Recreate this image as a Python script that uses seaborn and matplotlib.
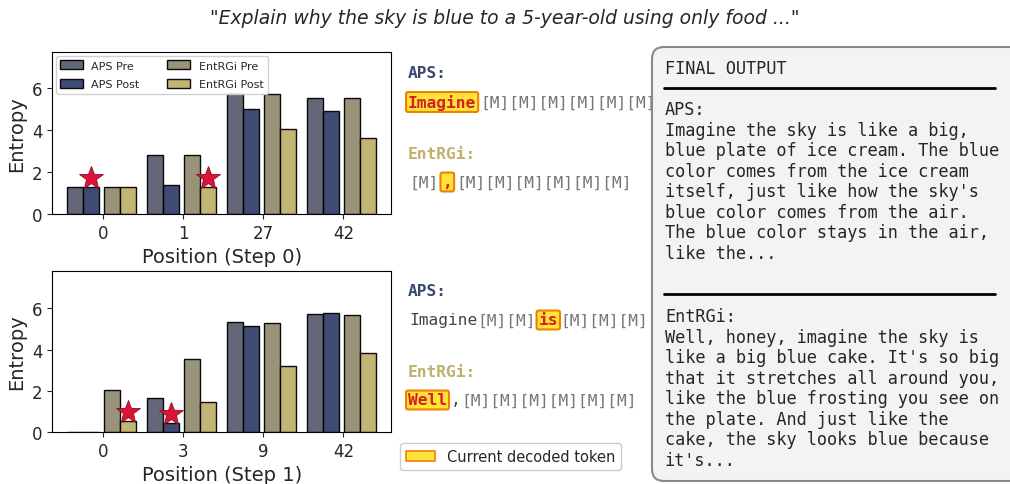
import seaborn as sns
import pandas as pd
import matplotlib.pyplot as plt
from matplotlib.patches import Patch, FancyBboxPatch
from matplotlib.transforms import Bbox

# Data
series = ["APS Pre", "APS Post", "EntRGi Pre", "EntRGi Post"]
step0_positions = ["0", "1", "27", "42"]
step0_aps_pre = [1.28, 2.82, 5.75, 5.52]
step0_aps_post = [1.28, 1.38, 5.01, 4.90]
step0_ent_pre = [1.28, 2.82, 5.71, 5.52]
step0_ent_post = [1.28, 1.28, 4.05, 3.62]

step1_positions = ["0", "3", "9", "42"]
step1_aps_pre = [0.0, 1.64, 5.31, 5.74]
step1_aps_post = [0.0, 0.42, 5.16, 5.79]
step1_ent_pre = [2.03, 3.55, 5.27, 5.66]
step1_ent_post = [0.53, 1.48, 3.19, 3.84]

# decoded-token markers: (series, group index)
step0_stars = [("APS Post", 0), ("EntRGi Post", 1)]
step1_stars = [("EntRGi Post", 0), ("APS Post", 1)]

prompt = '"Explain why the sky is blue to a 5-year-old using only food ..."'
aps_final = ("APS:\nImagine the sky is like a big,\nblue plate of ice cream. The blue\n"
             "color comes from the ice cream\nitself, just like how the sky's\n"
             "blue color comes from the air.\nThe blue color stays in the air,\nlike the...")
ent_final = ("EntRGi:\nWell, honey, imagine the sky is\nlike a big blue cake. It's so big\n"
             "that it stretches all around you,\nlike the blue frosting you see on\n"
             "the plate. And just like the\ncake, the sky looks blue because\nit's...")

# token lines: (text, kind) kind = mask / tok / cur
step0_aps_tokens = [("Imagine", "cur"), ("[M][M][M][M][M][M]", "mask")]
step0_ent_tokens = [("[M]", "mask"), (",", "cur"), ("[M][M][M][M][M][M]", "mask")]
step1_aps_tokens = [("Imagine", "tok"), ("[M][M]", "mask"), ("is", "cur"), ("[M][M][M][", "mask")]
step1_ent_tokens = [("Well", "cur"), (",", "tok"), ("[M][M][M][M][M][M]", "mask")]

palette = {"APS Pre": "#5a6070", "APS Post": "#34416b",
           "EntRGi Pre": "#948d72", "EntRGi Post": "#bfb06c"}
offsets = {"APS Pre": -0.35, "APS Post": -0.15, "EntRGi Pre": 0.11, "EntRGi Post": 0.31}
navy = "#3a4870"
khaki = "#bfb06c"
mono = "DejaVu Sans Mono"

sns.set_style("ticks")
plt.rcParams['font.family'] = ['DejaVu Sans']

fig = plt.figure(figsize=(10.1, 4.85), dpi=100)
ax0 = fig.add_axes([0.0515, 0.557, 0.336, 0.334])
ax1 = fig.add_axes([0.0515, 0.107, 0.336, 0.332])


def long_table(values):
    rows = []
    for name, vals in zip(series, values):
        for i, v in enumerate(vals):
            rows.append({"x": i + offsets[name], "group": i, "series": name, "entropy": v})
    return pd.DataFrame(rows)


def draw_panel(ax, positions, values, stars, step, ymax, legend):
    df = long_table(values)
    sns.barplot(data=df, x="x", y="entropy", hue="series", hue_order=series,
                palette=palette, native_scale=True, dodge=False, width=1.0,
                errorbar=None, saturation=1, edgecolor="black", linewidth=1,
                alpha=0.95, ax=ax, legend=legend)
    for name, g in stars:
        row = df[(df.series == name) & (df.group == g)].iloc[0]
        ax.plot(row.x, row.entropy + 0.45, marker="*", markersize=18,
                color="#dc143c", markeredgecolor="#8b0a1a", markeredgewidth=0.6,
                zorder=5)
    ax.set_xticks(range(len(positions)))
    ax.set_xticklabels(positions)
    ax.set_xlim(-0.64, 3.6)
    ax.set_ylim(0, ymax)
    ax.set_yticks([0, 2, 4, 6])
    ax.tick_params(labelsize=12)
    ax.set_xlabel(f"Position (Step {step})", fontsize=14)
    ax.set_ylabel("Entropy", fontsize=14)
    for s in ax.spines.values():
        s.set_color("black")
    if legend:
        ax.legend(loc="upper left", ncol=2, fontsize=8, framealpha=0.9,
                  borderaxespad=0.35, columnspacing=2.5, labelspacing=0.75,
                  handleheight=0.9)


draw_panel(ax0, step0_positions, [step0_aps_pre, step0_aps_post, step0_ent_pre, step0_ent_post],
           step0_stars, 0, 7.72, True)
draw_panel(ax1, step1_positions, [step1_aps_pre, step1_aps_post, step1_ent_pre, step1_ent_post],
           step1_stars, 1, 7.8, False)

# overlay in pixel coordinates for the text panels
ov = fig.add_axes([0, 0, 1, 1])
ov.set_xlim(0, 1010)
ov.set_ylim(485, 0)
ov.axis("off")

ov.text(505, 18, prompt, ha="center", va="center", fontsize=13.5, style="italic")

# token text is cut where the final-output box begins
token_clip = Bbox.from_extents(0, 0, 652, 485)


def token_line(x, y, parts, gap_cur=3):
    prev = None
    prev_kind = None
    for s, kind in parts:
        st = dict(family=mono, fontsize=11.7, va="center", ha="left")
        if kind == "cur":
            st.update(color="#d62020", weight="bold",
                      bbox=dict(boxstyle="round,pad=0.12", fc="#ffe23a", ec="#f08000", lw=1.5))
        elif kind == "tok":
            st.update(color="#444444")
        else:
            st.update(color="#777777")
        if prev is None:
            prev = ov.text(x, y, s, **st)
        else:
            gap = gap_cur if "cur" in (kind, prev_kind) else 0
            prev = ov.annotate(s, xy=(1, 0.5), xycoords=prev, xytext=(gap, 0),
                               textcoords="offset points", **st)
        prev.set_clip_box(token_clip)
        prev.set_clip_on(True)
        prev_kind = kind


labels = [("APS:", navy, 74), ("EntRGi:", khaki, 155), ("APS:", navy, 292), ("EntRGi:", khaki, 373)]
for txt, col, y in labels:
    ov.text(408, y, txt, family=mono, fontsize=11.7, weight="bold", color=col, va="center")

token_line(408, 103, step0_aps_tokens)
token_line(409, 183, step0_ent_tokens)
token_line(409, 321, step1_aps_tokens, gap_cur=2)
token_line(408, 401, step1_ent_tokens)

fig.legend(handles=[Patch(facecolor="#ffe23a", edgecolor="#f08000", lw=1.2,
                          label="Current decoded token")],
           loc="lower left", bbox_to_anchor=(400 / 1010, 1 - 471 / 485),
           borderaxespad=0, fontsize=10.5, framealpha=1)

# final output panel
box = FancyBboxPatch((652, 48), 430, 434, boxstyle="round,pad=0,rounding_size=12",
                     fc="#f3f3f3", ec="#888888", lw=1.5, zorder=5)
ov.add_patch(box)
ov.text(665, 69, "FINAL OUTPUT", family=mono, fontsize=12.2, va="center", zorder=6)
ov.plot([664, 995], [89, 89], color="black", lw=2, zorder=6)
ov.plot([664, 995], [295, 295], color="black", lw=2, zorder=6)
ov.text(665, 101, aps_final, family=mono, fontsize=12.2, va="top", linespacing=1.18, zorder=6)
ov.text(665, 308, ent_final, family=mono, fontsize=12.2, va="top", linespacing=1.18, zorder=6)

fig.savefig("out.png", dpi=100)
